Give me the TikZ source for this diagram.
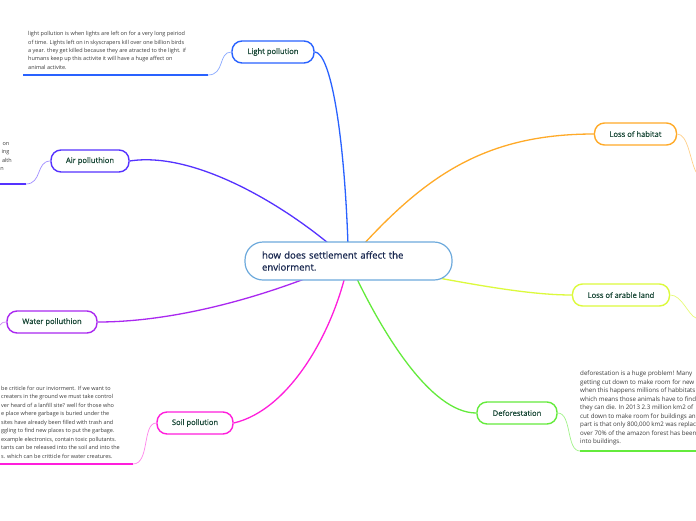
\documentclass[tikz,border=0pt]{standalone}
\usepackage{fontspec}
\setmainfont{Open Sans}
\newfontfamily\labfont{Open Sans}[FakeBold=0.7]
\usetikzlibrary{backgrounds}
\definecolor{cLight}{RGB}{41,98,255}
\definecolor{cAir}{RGB}{85,50,255}
\definecolor{cWater}{RGB}{170,40,240}
\definecolor{cSoil}{RGB}{255,30,220}
\definecolor{cDefo}{RGB}{100,235,60}
\definecolor{cArable}{RGB}{220,250,60}
\definecolor{cHab}{RGB}{255,170,40}
\definecolor{cCenter}{RGB}{110,170,220}
\definecolor{labtext}{RGB}{25,72,55}
\definecolor{centtext}{RGB}{25,40,80}
\definecolor{leafgray}{RGB}{60,60,60}
\begin{document}
\begin{tikzpicture}[x=1pt,y=-1pt,
  lab/.style={draw, line width=1.4pt, rounded corners=10pt, fill=white,
    font=\labfont\fontsize{7.6}{9}\selectfont, text=labtext, inner sep=0pt,
    minimum height=22pt},
  centerbox/.style={draw=cCenter, line width=1.2pt, rounded corners=18pt, fill=white,
    font=\labfont\fontsize{9.6}{12}\selectfont, text=centtext, inner xsep=17pt,
    inner ysep=0pt, minimum height=38pt, text width=173pt, align=left},
  conn/.style={line width=1.3pt},
  leafline/.style={line width=0.7pt},
  underl/.style={line width=2pt},
  leaftext/.style={font=\fontsize{5.5}{8.45}\selectfont, text=leafgray, align=left,
    inner sep=0pt}
]
\useasboundingbox (0,0) rectangle (696,520);
\clip (0,0) rectangle (696,520);

% nodes
\node[centerbox] (c) at (348.5,261) {how does settlement affect the\\enviorment.};
\node[lab, draw=cLight, minimum width=82pt] (light) at (273,52) {Light pollution};
\node[lab, draw=cAir, minimum width=78pt] (air) at (90,161) {Air polluthion};
\node[lab, draw=cWater, minimum width=90pt] (water) at (52,322) {Water polluthion};
\node[lab, draw=cSoil, minimum width=76pt] (soil) at (195,423) {Soil pollution};
\node[lab, draw=cDefo, minimum width=80pt] (defo) at (517,413) {Deforestation};
\node[lab, draw=cHab, minimum width=82pt] (hab) at (635.5,134) {Loss of habitat};
\node[lab, draw=cArable, minimum width=97pt] (arable) at (621,295) {Loss of arable land};

% main connectors behind the nodes
\begin{pgfonlayer}{background}
\fill[white] (0,0) rectangle (696,520);
\draw[conn, cLight] (c.center) .. controls (345,130) and (330,52) .. (light.east);
\draw[conn, cAir] (c.center) .. controls (300,215) and (200,150) .. (air.east);
\draw[conn, cWater] (c.center) .. controls (260,300) and (170,322) .. (water.east);
\draw[conn, cSoil] (c.center) .. controls (335,330) and (290,410) .. (soil.east);
\draw[conn, cDefo] (c.center) .. controls (380,330) and (430,413) .. (defo.west);
\draw[conn, cHab] (c.center) .. controls (420,180) and (480,134) .. (hab.west);
\draw[conn, cArable] (c.center) .. controls (450,280) and (520,295) .. (arable.west);
\end{pgfonlayer}

% leaf branches
\coordinate (lightU) at (208,75);
\coordinate (lightE) at (23,75);
\draw[leafline, cLight!55] (light.west) .. controls (218,52) and (225,75) .. (lightU);
\draw[underl, cLight] (lightU) -- (lightE);
\node[leaftext, anchor=north west] (lighttxt) at (28,31.2) {light pollution is when lights are left on for a very long peiriod\\of time. Lights left on in skyscrapers kill over one billion birds\\a year. they get killed because they are atracted to the light. if\\humans keep up this activite it will have a huge affect on\\animal activite.};

\coordinate (airU) at (26,184);
\coordinate (airE) at (0,184);
\draw[leafline, cAir!55] (air.west) .. controls (36,161) and (42,184) .. (airU);
\draw[underl, cAir] (airU) -- (airE);
\node[leaftext, anchor=base east] (air1) at (9.5,145) {on};
\node[leaftext, anchor=base east] (air2) at (9.5,153.5) {ing};
\node[leaftext, anchor=base east] (air3) at (12,162) {alth};
\node[leaftext, anchor=base east] (air4) at (4,170.5) {n};

\coordinate (waterE) at (0,325);
\draw[leafline, cWater!55] (water.west) .. controls (3,322) .. (waterE);

\coordinate (soilU) at (133,464);
\coordinate (soilE) at (0,464);
\draw[leafline, cSoil!55] (soil.west) .. controls (142,423) and (150,464) .. (soilU);
\draw[underl, cSoil] (soilU) -- (soilE);
\node[leaftext, anchor=north west] (soiltxt) at (1,386) {be criticle for our inviorment. If we want to\\creaters in the ground we must take control\\ver heard of a lanfill site? well for those who\\e place where garbage is buried under the\\sites have already been filled with trash and\\ggling to find new places to put the garbage.\\example electronics, contain toxic pollutants.\\tants can be released into the soil and into the\\s. which can be critticle for water creatures.};

\coordinate (defoU) at (580,451);
\coordinate (defoE) at (696,451);
\draw[leafline, cDefo!60] (defo.east) .. controls (572,413) and (566,451) .. (defoU);
\draw[underl, cDefo] (defoU) -- (defoE);
\node[leaftext, anchor=north west, font=\fontsize{6.2}{8.5}\selectfont] (defotxt) at (580,371) {deforestation is a huge problem! Many\\getting cut down to make room for new\\when this happens millions of habbitats\\which means those animals have to find\\they can die. In 2013 2.3 million km2 of\\cut down to make room for buildings and\\part is that only 800,000 km2 was replaced\\over 70\% of the amazon forest has been\\into buildings.};

\coordinate (habE) at (696,172);
\draw[leafline, cHab!55] (hab.east) .. controls (688,134) and (690,160) .. (habE);

\coordinate (arableE) at (696,318);
\draw[leafline, cArable!70] (arable.east) .. controls (682,295) and (688,315) .. (arableE);
\end{tikzpicture}
\end{document}
